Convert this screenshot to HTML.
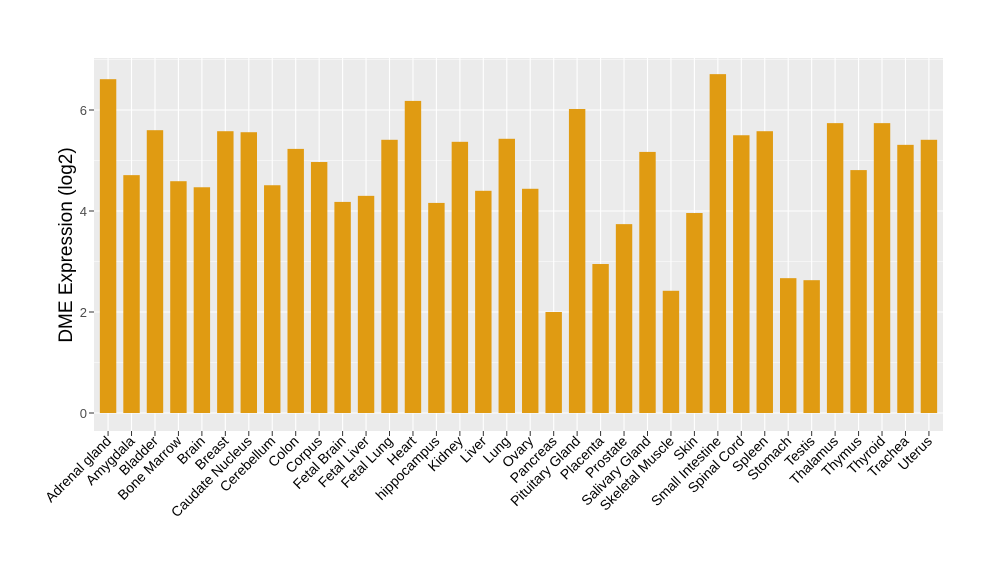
<!DOCTYPE html>
<html><head><meta charset="utf-8"><style>body{margin:0;background:#fff}svg{display:block}</style></head><body>
<svg width="1000" height="580" xmlns="http://www.w3.org/2000/svg" font-family="Liberation Sans, sans-serif">
<rect x="94" y="58" width="849" height="373" fill="#EBEBEB"/>
<g id="grid"></g>
<g id="bars"></g>
<g id="labels"></g>
<g font-size="13" fill="#4D4D4D" text-anchor="end">
<text x="87" y="418">0</text><text x="87" y="317">2</text><text x="87" y="216">4</text><text x="87" y="115">6</text>
</g>
<g stroke="#333" stroke-width="1">
<line x1="89" x2="94" y1="413" y2="413"/><line x1="89" x2="94" y1="312" y2="312"/><line x1="89" x2="94" y1="211" y2="211"/><line x1="89" x2="94" y1="110" y2="110"/>
</g>
<text transform="translate(72,245) rotate(-90)" text-anchor="middle" font-size="19" fill="#000">DME Expression (log2)</text>
<script>
(function(){
var names=["Adrenal gland","Amygdala","Bladder","Bone Marrow","Brain","Breast","Caudate Nucleus","Cerebellum","Colon","Corpus","Fetal Brain","Fetal Liver","Fetal Lung","Heart","hippocampus","Kidney","Liver","Lung","Ovary","Pancreas","Pituitary Gland","Placenta","Prostate","Salivary Gland","Skeletal Muscle","Skin","Small Intestine","Spinal Cord","Spleen","Stomach","Testis","Thalamus","Thymus","Thyroid","Trachea","Uterus"];
var v=[6.61,4.71,5.6,4.59,4.47,5.58,5.56,4.51,5.23,4.97,4.18,4.3,5.41,6.18,4.16,5.37,4.4,5.43,4.44,2.0,6.02,2.95,3.74,5.17,2.42,3.96,6.71,5.5,5.58,2.67,2.63,5.74,4.81,5.74,5.31,5.41];
var NS="http://www.w3.org/2000/svg",g=document.getElementById("grid"),b=document.getElementById("bars"),l=document.getElementById("labels");
function el(t,a,p){var e=document.createElementNS(NS,t);for(var k in a)e.setAttribute(k,a[k]);p.appendChild(e);return e;}
for(var y=0;y<=7;y++){var yy=413-50.5*y;if(yy<58)continue;el("line",{x1:94,x2:943,y1:yy,y2:yy,stroke:"#fff","stroke-width":y%2?0.5:1.1},g);}
var s=849/36.2;
for(var i=0;i<36;i++){var cx=94+(i+0.6)*s;
el("line",{x1:cx,x2:cx,y1:58,y2:431,stroke:"#fff","stroke-width":1.1},g);
var ty=413-50.5*v[i];
el("rect",{x:cx-s*0.35,y:ty,width:s*0.7,height:413-ty,fill:"#E09B12"},b);
el("line",{x1:cx,x2:cx,y1:431,y2:436,stroke:"#333"},l);
var t=el("text",{x:cx+4,y:442,"text-anchor":"end","font-size":14,fill:"#000",transform:"rotate(-45 "+(cx+4)+" 442)"},l);t.textContent=names[i];}
})();
</script>
</svg>
</body></html>
